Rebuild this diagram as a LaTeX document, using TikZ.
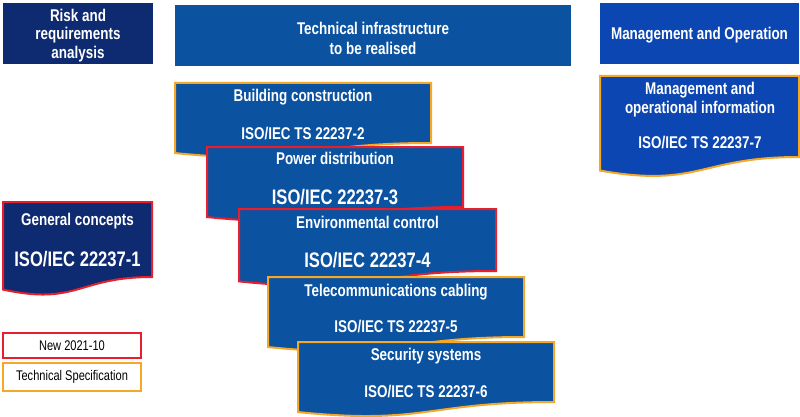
\documentclass[tikz,border=0pt]{standalone}
\usepackage{fontspec}
\setmainfont{Liberation Sans}[FakeStretch=0.79]
\usepackage{tikz}
\usetikzlibrary{positioning}

\definecolor{navyblue}{RGB}{14,42,112}
\definecolor{techblue}{RGB}{11,82,160}
\definecolor{mgmtblue}{RGB}{12,70,178}
\definecolor{tsorange}{RGB}{245,168,40}
\definecolor{newred}{RGB}{230,30,45}

\tikzset{
    headbox/.style={fill=#1, draw=none, inner sep=0pt, text=white, align=center,
        font=\bfseries\fontsize{17}{18.5}\selectfont},
    headtext/.style={text=white, align=center, inner sep=0pt, font=\bfseries\fontsize{17}{18.5}\selectfont},
    title/.style={text=white, align=center, inner sep=0pt, font=\bfseries\fontsize{17}{19}\selectfont},
    bignumber/.style={text=white, inner sep=0pt, font=\bfseries\fontsize{21}{24}\selectfont},
    smallnumber/.style={text=white, inner sep=0pt, font=\bfseries\fontsize{17}{19}\selectfont},
    tsdoc/.style={fill=#1, draw=tsorange, line width=2pt},
    newdoc/.style={fill=#1, draw=newred, line width=2pt},
    legend/.style={fill=white, line width=2pt, inner sep=0pt, minimum width=138pt,
        font=\fontsize{14}{16}\selectfont}
}

% sheet with wavy bottom: style, left, top, right, bottom at right edge
\newcommand{\wavebox}[5]{%
    \draw[#1] (#2,#3) -- (#4,#3) -- (#4,#5)
        .. controls ({(#2+#4)/2},#5) and ({(#2+#4)/2},{#3+(#5-#3)*1.107/0.8})
        .. (#2,{#3+(#5-#3)*0.934/0.8}) -- cycle;}

\begin{document}
\begin{tikzpicture}[x=1pt, y=-1pt]
    \useasboundingbox (0,0) rectangle (800,417);

    % column heads
    \node[headbox=navyblue, minimum width=150pt, minimum height=61pt] (risk) at (78,33.5) {};
    \node[headtext] (risk-text) at (78,35.5) {Risk and\\requirements\\analysis};
    \node[headbox=techblue, minimum width=396pt, minimum height=61pt] (infra) at (373,35.5) {};
    \node[headtext, font=\bfseries\fontsize{17}{20}\selectfont] (infra-text) at (373,38)
        {Technical infrastructure\\to be realised};
    \node[headbox=mgmtblue, minimum width=199pt, minimum height=61pt] (mgmt) at (699.5,33.5) {};
    \node[headtext] (mgmt-text) at (699.5,35.5) {Management and Operation};

    % management and operational information
    \wavebox{tsdoc=mgmtblue}{600}{76}{799}{157}
    \node[title] (info) at (700,99.5) {Management and\\operational information};
    \node[smallnumber] (info-no) at (700,143) {ISO/IEC TS 22237-7};

    % general concepts
    \wavebox{newdoc=navyblue}{3}{202}{152}{277}
    \node[title] (general) at (77.5,221.5) {General concepts};
    \node[bignumber] (general-no) at (77.5,259) {ISO/IEC 22237-1};

    % stacked infrastructure parts
    \wavebox{tsdoc=techblue}{175}{83}{431}{143}
    \node[title] (building) at (303,97.5) {Building construction};
    \node[smallnumber] (building-no) at (303,134) {ISO/IEC TS 22237-2};

    \wavebox{newdoc=techblue}{207}{147}{463}{207}
    \node[title] (power) at (335,158.5) {Power distribution};
    \node[bignumber] (power-no) at (335,197) {ISO/IEC 22237-3};

    \wavebox{newdoc=techblue}{239}{209}{496}{271}
    \node[title] (environment) at (367.5,222.5) {Environmental control};
    \node[bignumber] (environment-no) at (367.5,260) {ISO/IEC 22237-4};

    \wavebox{tsdoc=techblue}{268}{277}{524}{337}
    \node[title] (cabling) at (396,292.5) {Telecommunications cabling};
    \node[smallnumber] (cabling-no) at (396,327) {ISO/IEC TS 22237-5};

    \wavebox{tsdoc=techblue}{298}{342}{554}{402}
    \node[title] (security) at (426,356.5) {Security systems};
    \node[smallnumber] (security-no) at (426,392) {ISO/IEC TS 22237-6};

    % legend
    \node[legend, draw=newred, minimum height=25pt] (new) at (72,345.5) {New 2021-10};
    \node[legend, draw=tsorange, minimum height=28pt] (spec) at (72,377) {Technical Specification};
\end{tikzpicture}
\end{document}
